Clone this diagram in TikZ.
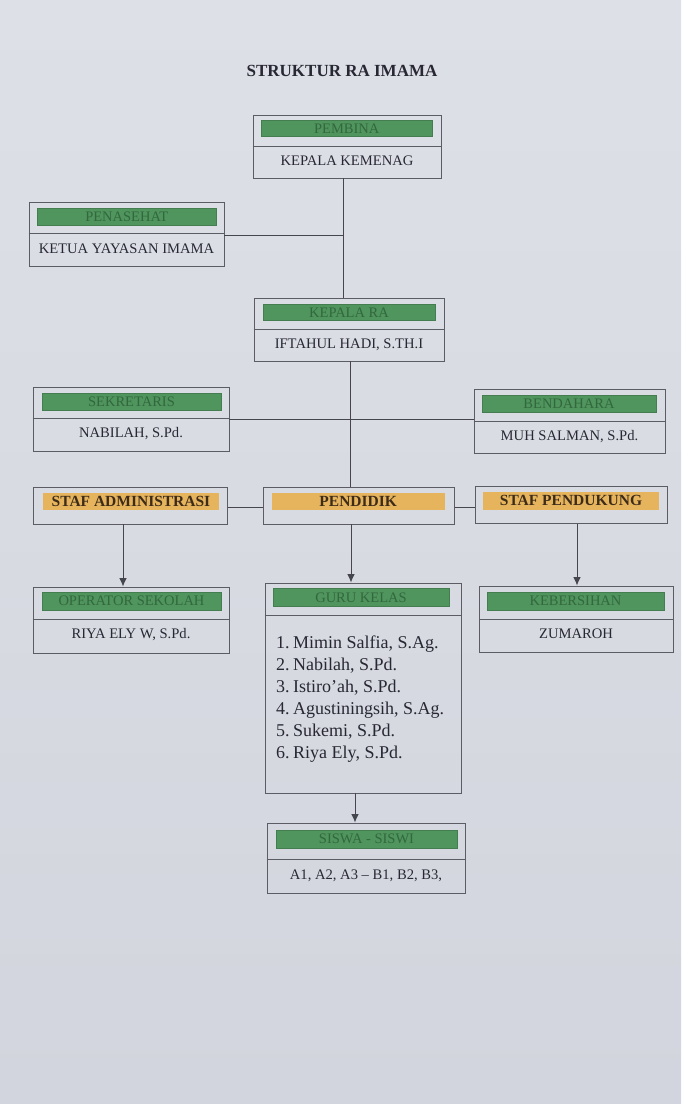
\documentclass[tikz,border=0pt]{standalone}
\usepackage{fontspec}
\setmainfont{Liberation Serif}
\usetikzlibrary{fit,arrows.meta}
\definecolor{bgtop}{RGB}{222,224,231}
\definecolor{bgbot}{RGB}{210,213,221}
\definecolor{boxc}{RGB}{92,92,100}
\definecolor{linec}{RGB}{70,70,78}
\definecolor{gbarc}{RGB}{80,148,94}
\definecolor{gtext}{RGB}{50,104,62}
\definecolor{obarc}{RGB}{230,180,92}
\definecolor{otext}{RGB}{62,44,26}
\definecolor{bodyc}{RGB}{40,40,52}
\begin{document}
\begin{tikzpicture}[x=1pt,y=-1pt,
  box/.style={draw=boxc, line width=0.9pt, inner sep=0pt},
  gbar/.style={fill=gbarc, draw=gbarc!85!black, line width=0.4pt, inner sep=0pt},
  glabel/.style={inner sep=0pt, text=gtext, font=\fontsize{14.5}{16}\selectfont},
  obar/.style={fill=obarc, inner sep=0pt},
  olabel/.style={inner sep=0pt, text=otext, font=\bfseries\fontsize{15.5}{17}\selectfont},
  body/.style={text=bodyc, font=\fontsize{14.6}{17}\selectfont, inner sep=0pt},
  divline/.style={draw=boxc, line width=0.9pt},
  conn/.style={draw=linec, line width=0.9pt},
  arr/.style={conn, -{Latex[length=8.5pt,width=7.5pt]}}
]
\fill[top color=bgtop, bottom color=bgbot] (0,0) rectangle (681,1104);
\useasboundingbox (0,0) rectangle (681,1104);

% title
\node[font=\bfseries\fontsize{17}{20}\selectfont, text=bodyc] (title) at (342,71) {STRUKTUR RA IMAMA};

% PEMBINA
\node[box, fit={(253,115)(441,178)}] (pembina) {};
\node[gbar, fit={(261,120.5)(432.5,136.5)}] (pembinabar) {};
\node[glabel] (pembinalbl) at (pembinabar.center) {PEMBINA};
\coordinate (d1) at (0,146);
\draw[divline] (pembina.west |- d1) -- (pembina.east |- d1);
\node[body] (pembinatxt) at (347,161) {KEPALA KEMENAG};

% PENASEHAT
\node[box, fit={(29,202.5)(224,266)}] (penasehat) {};
\node[gbar, fit={(37.5,208.5)(216,225.5)}] (penasehatbar) {};
\node[glabel] (penasehatlbl) at (penasehatbar.center) {PENASEHAT};
\coordinate (d2) at (0,233.5);
\draw[divline] (penasehat.west |- d2) -- (penasehat.east |- d2);
\node[body] (penasehattxt) at (126.5,249) {KETUA YAYASAN IMAMA};

% KEPALA RA
\node[box, fit={(254,298)(444,361)}] (kepala) {};
\node[gbar, fit={(263,304)(435,320.5)}] (kepalabar) {};
\node[glabel] (kepalalbl) at (kepalabar.center) {KEPALA RA};
\coordinate (d3) at (0,329.5);
\draw[divline] (kepala.west |- d3) -- (kepala.east |- d3);
\node[body] (kepalatxt) at (349,345) {IFTAHUL HADI, S.TH.I};

% SEKRETARIS
\node[box, fit={(33,387)(229,451)}] (sek) {};
\node[gbar, fit={(42,393)(221,410)}] (sekbar) {};
\node[glabel] (seklbl) at (sekbar.center) {SEKRETARIS};
\coordinate (d4) at (0,418.5);
\draw[divline] (sek.west |- d4) -- (sek.east |- d4);
\node[body] (sektxt) at (131,434) {NABILAH, S.Pd.};

% BENDAHARA
\node[box, fit={(474,389.5)(665,453)}] (bend) {};
\node[gbar, fit={(482,395)(656,412.5)}] (bendbar) {};
\node[glabel] (bendlbl) at (bendbar.center) {BENDAHARA};
\coordinate (d5) at (0,421.5);
\draw[divline] (bend.west |- d5) -- (bend.east |- d5);
\node[body] (bendtxt) at (569.5,437) {MUH SALMAN, S.Pd.};

% row 3
\node[box, fit={(33,487)(227.5,524)}] (adm) {};
\node[obar, fit={(43,493)(219,510)}] (admbar) {};
\node[olabel] (admlbl) at (admbar.center) {STAF ADMINISTRASI};
\node[box, fit={(263.5,487)(454.5,524)}] (pend) {};
\node[obar, fit={(271.5,493)(445,510)}] (pendbar) {};
\node[olabel] (pendlbl) at (pendbar.center) {PENDIDIK};
\node[box, fit={(475,486)(667,523.5)}] (pendk) {};
\node[obar, fit={(483,492)(659,509.5)}] (pendkbar) {};
\node[olabel] (pendklbl) at (pendkbar.center) {STAF PENDUKUNG};

% OPERATOR SEKOLAH
\node[box, fit={(33,587)(229,653)}] (op) {};
\node[gbar, fit={(42,592)(221,610)}] (opbar) {};
\node[glabel] (oplbl) at (opbar.center) {OPERATOR SEKOLAH};
\coordinate (d6) at (0,619.5);
\draw[divline] (op.west |- d6) -- (op.east |- d6);
\node[body] (optxt) at (131,635) {RIYA ELY W, S.Pd.};

% GURU KELAS
\node[box, fit={(265,583)(461,793)}] (guru) {};
\node[gbar, fit={(273,588.5)(449,606.5)}] (gurubar) {};
\node[glabel] (gurulbl) at (gurubar.center) {GURU KELAS};
\coordinate (d7) at (0,615);
\draw[divline] (guru.west |- d7) -- (guru.east |- d7);
\node[body, anchor=west, align=left, font=\fontsize{18}{22}\selectfont] (gurulist) at (276,699)
 {\makebox[17pt][l]{1.}Mimin Salfia, S.Ag.\\
  \makebox[17pt][l]{2.}Nabilah, S.Pd.\\
  \makebox[17pt][l]{3.}Istiro’ah, S.Pd.\\
  \makebox[17pt][l]{4.}Agustiningsih, S.Ag.\\
  \makebox[17pt][l]{5.}Sukemi, S.Pd.\\
  \makebox[17pt][l]{6.}Riya Ely, S.Pd.};

% KEBERSIHAN
\node[box, fit={(479.5,586)(673,652)}] (keb) {};
\node[gbar, fit={(487,592)(664,610)}] (kebbar) {};
\node[glabel] (keblbl) at (kebbar.center) {KEBERSIHAN};
\coordinate (d8) at (0,619);
\draw[divline] (keb.west |- d8) -- (keb.east |- d8);
\node[body] (kebtxt) at (576,633.5) {ZUMAROH};

% SISWA
\node[box, fit={(267,823)(465,893)}] (siswa) {};
\node[gbar, fit={(276,830)(457,848)}] (siswabar) {};
\node[glabel] (siswalbl) at (siswabar.center) {SISWA - SISWI};
\coordinate (d9) at (0,859);
\draw[divline] (siswa.west |- d9) -- (siswa.east |- d9);
\node[body] (siswatxt) at (366,876) {A1, A2, A3 – B1, B2, B3,};

% connectors
\coordinate (xa) at (343,0);
\coordinate (j1) at (343,235);
\coordinate (xb) at (350,0);
\coordinate (ysb) at (0,419);
\coordinate (ys) at (0,507.5);
\coordinate (xl) at (123,0);
\coordinate (xm) at (351,0);
\coordinate (xr) at (577,0);
\coordinate (xs) at (355,0);

\draw[conn] (pembina.south -| xa) -- (kepala.north -| xa);
\draw[conn] (penasehat.east |- j1) -- (j1);
\draw[conn] (kepala.south -| xb) -- (pend.north -| xb);
\draw[conn] (sek.east |- ysb) -- (bend.west |- ysb);
\draw[conn] (adm.east |- ys) -- (pend.west |- ys);
\draw[conn] (pend.east |- ys) -- (pendk.west |- ys);
\draw[arr] (adm.south -| xl) -- (op.north -| xl);
\draw[arr] (pend.south -| xm) -- (guru.north -| xm);
\draw[arr] (pendk.south -| xr) -- (keb.north -| xr);
\draw[arr] (guru.south -| xs) -- (siswa.north -| xs);
\end{tikzpicture}
\end{document}
